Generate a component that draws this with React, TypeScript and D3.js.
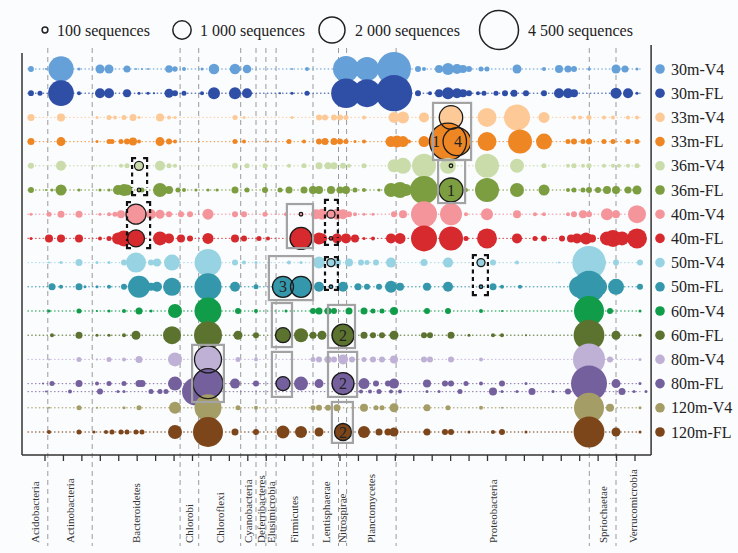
import * as React from 'react'
import * as d3 from 'd3'

// samples (rows) and their colours
const samples = ['30m-V4', '30m-FL', '33m-V4', '33m-FL', '36m-V4', '36m-FL', '40m-V4', '40m-FL',
  '50m-V4', '50m-FL', '60m-V4', '60m-FL', '80m-V4', '80m-FL', '120m-V4', '120m-FL']
const sampleColors = ['#65a0d8', '#2f4fa6', '#fcc997', '#ef8624', '#cadcaa', '#7c9e40', '#f4959b', '#d62a2e',
  '#97d3e2', '#3597ab', '#109c49', '#5c7330', '#bfb0d6', '#75609e', '#a59d66', '#7c461a']

type Cell = [number, number] // [OTU rank, sequences]

const s30V4: Cell[] = [[1, 100], [6, 12], [11, 1900], [17, 27], [24, 240], [27, 240], [33, 145], [36, 12], [38, 12], [40, 12],
  [47, 170], [49, 86], [52, 47], [58, 27], [62, 330], [69, 330], [73, 220], [88, 12], [93, 47], [106, 2000], [113, 1700],
  [122, 3400], [130, 106], [132, 47], [137, 190], [140, 425], [143, 300], [145, 190], [147, 106], [151, 74], [153, 74],
  [163, 240], [172, 47], [177, 190], [180, 145], [182, 106], [187, 27], [196, 240], [199, 145], [203, 27]]
const s30FL: Cell[] = [[1, 100], [4, 74], [8, 27], [11, 1950], [17, 47], [24, 296], [27, 296], [33, 190], [37, 27], [40, 27],
  [42, 12], [47, 240], [49, 106], [52, 74], [58, 47], [62, 426], [69, 426], [73, 296], [84, 12], [88, 27], [93, 74],
  [106, 2600], [113, 2300], [122, 3900], [130, 106], [134, 47], [137, 190], [140, 426], [143, 296], [145, 190], [147, 106],
  [150, 47], [152, 74], [156, 74], [159, 106], [162, 145], [166, 106], [172, 106], [177, 296], [180, 296], [182, 190],
  [196, 358], [200, 296], [203, 27]]
const s33V4: Cell[] = [[1, 145], [11, 190], [23, 27], [27, 74], [29, 47], [32, 74], [35, 145], [37, 27], [44, 190], [47, 47],
  [49, 27], [69, 74], [72, 27], [88, 27], [97, 106], [99, 106], [102, 106], [104, 106], [106, 74], [112, 47], [122, 358],
  [125, 426], [132, 296], [141, 1620], [153, 1068], [163, 2000], [172, 358], [182, 47], [184, 47], [187, 74], [192, 47],
  [195, 47], [200, 47], [203, 47]]
const s33FL: Cell[] = [[1, 145], [11, 240], [23, 27], [27, 74], [28, 74], [31, 74], [33, 106], [35, 190], [37, 47], [44, 240],
  [47, 106], [49, 47], [69, 74], [72, 47], [80, 12], [87, 74], [92, 47], [97, 106], [99, 145], [102, 145], [104, 106],
  [106, 74], [109, 27], [112, 47], [121, 358], [123, 426], [125, 358], [127, 47], [132, 358], [140, 4050], [143, 2300],
  [153, 1068], [164, 1704], [172, 757], [180, 74], [182, 106], [185, 74], [187, 106], [192, 74], [195, 74], [200, 74], [203, 74]]
const s36V4: Cell[] = [[1, 106], [11, 296], [22, 12], [24, 12], [27, 12], [31, 47], [33, 74], [37, 240], [44, 296], [47, 74],
  [49, 47], [69, 106], [73, 74], [79, 74], [87, 47], [92, 74], [97, 145], [100, 145], [102, 145], [105, 106], [107, 47],
  [112, 74], [122, 500], [125, 757], [132, 1704], [140, 757], [141, 27], [153, 1704], [163, 580], [172, 74], [180, 47],
  [182, 74], [185, 47], [187, 74], [192, 47], [195, 47], [197, 47], [200, 47], [203, 74]]
const s36FL: Cell[] = [[1, 106], [6, 12], [8, 27], [11, 358], [17, 27], [24, 27], [27, 27], [30, 296], [32, 426], [33, 358],
  [37, 12], [38, 74], [44, 580], [47, 190], [50, 74], [52, 47], [56, 27], [60, 27], [63, 27], [69, 145], [73, 74], [79, 106],
  [84, 74], [87, 145], [92, 145], [95, 190], [97, 190], [101, 190], [104, 145], [106, 190], [109, 74], [112, 47], [117, 27],
  [121, 580], [124, 757], [126, 426], [132, 2319], [141, 1704], [146, 47], [153, 1704], [163, 580], [172, 358], [180, 47],
  [182, 74], [185, 74], [187, 106], [190, 106], [193, 190], [196, 190], [200, 145], [203, 240]]
const s40V4: Cell[] = [[1, 27], [7, 74], [11, 145], [17, 145], [24, 27], [27, 47], [29, 74], [31, 190], [36, 1183], [41, 296],
  [44, 240], [47, 106], [51, 106], [54, 106], [60, 358], [69, 106], [72, 106], [79, 74], [86, 47], [91, 27], [96, 296],
  [98, 358], [101, 190], [103, 358], [105, 296], [107, 106], [109, 47], [112, 27], [115, 27], [122, 106], [125, 190],
  [132, 2000], [141, 1431], [146, 47], [153, 426], [163, 190], [169, 47], [172, 47], [180, 47], [182, 106], [185, 190],
  [187, 106], [193, 426], [196, 190], [203, 958]]
const s40FL: Cell[] = [[1, 27], [7, 190], [11, 190], [17, 190], [24, 47], [27, 74], [30, 426], [32, 757], [36, 855], [44, 580],
  [47, 296], [51, 190], [54, 106], [60, 358], [69, 190], [72, 106], [77, 74], [80, 47], [91, 1431], [97, 426], [98, 296],
  [101, 27], [103, 296], [106, 296], [109, 190], [112, 27], [115, 47], [121, 296], [124, 358], [132, 2000], [141, 1704],
  [146, 74], [153, 1183], [163, 296], [169, 74], [172, 106], [178, 106], [181, 190], [183, 296], [186, 426], [188, 190],
  [193, 580], [195, 855], [198, 580], [203, 1183]]
const s50V4: Cell[] = [[7, 12], [11, 27], [17, 145], [23, 27], [27, 27], [32, 106], [36, 1183], [41, 106], [43, 190], [48, 757],
  [60, 2156], [69, 106], [72, 47], [76, 27], [87, 47], [91, 27], [97, 426], [101, 190], [103, 190], [107, 190], [111, 106],
  [113, 74], [116, 106], [121, 296], [132, 145], [140, 296], [151, 190], [155, 106], [163, 47], [177, 12], [187, 3300],
  [191, 296], [196, 106], [204, 106]]
const s50FL: Cell[] = [[8, 145], [11, 47], [17, 145], [19, 27], [23, 27], [27, 47], [32, 106], [37, 1431], [41, 190], [43, 296],
  [48, 958], [60, 2156], [69, 296], [76, 74], [85, 1304], [91, 1304], [97, 296], [101, 27], [105, 296], [110, 145], [113, 106],
  [117, 106], [121, 426], [124, 190], [133, 190], [140, 296], [151, 27], [155, 145], [158, 47], [164, 47], [184, 1400],
  [187, 3028], [190, 1000], [196, 757], [204, 106]]
const s60V4: Cell[] = [[7, 27], [17, 74], [23, 12], [27, 27], [32, 47], [37, 145], [41, 27], [49, 580], [60, 2156], [70, 106],
  [76, 47], [86, 27], [95, 106], [97, 145], [100, 145], [102, 106], [107, 145], [112, 145], [115, 74], [118, 74], [122, 190],
  [133, 106], [140, 106], [151, 47], [158, 12], [187, 2662], [194, 106], [204, 27]]
const s60FL: Cell[] = [[8, 47], [17, 145], [23, 27], [27, 27], [32, 47], [36, 240], [48, 958], [60, 2319], [70, 240], [76, 106],
  [85, 665], [91, 580], [95, 145], [98, 240], [105, 1431], [112, 145], [115, 106], [118, 106], [122, 240], [132, 106],
  [134, 106], [141, 145], [147, 27], [155, 47], [158, 47], [166, 12], [187, 2800], [196, 240], [204, 27]]
const s80V4: Cell[] = [[7, 12], [17, 74], [23, 12], [27, 74], [32, 47], [37, 145], [49, 580], [60, 2156], [70, 74], [76, 47],
  [95, 74], [97, 106], [100, 145], [102, 106], [105, 296], [108, 106], [112, 74], [115, 106], [118, 106], [122, 190],
  [132, 106], [134, 106], [141, 106], [151, 47], [187, 3028], [194, 106], [204, 27]]
const s80FL: Cell[] = [[5, 12], [8, 74], [17, 145], [23, 47], [27, 74], [32, 74], [37, 145], [38, 145], [49, 580], [60, 2662],
  [69, 296], [76, 106], [85, 580], [91, 580], [97, 240], [105, 1431], [112, 358], [116, 106], [120, 106], [122, 296],
  [133, 190], [139, 106], [141, 106], [146, 74], [151, 47], [158, 106], [166, 27], [182, 47], [187, 3833], [196, 240], [204, 27]]
// second, lower line of the 80m-FL sample
const s80FLb: Cell[] = [[6, 12], [14, 47], [24, 106], [30, 27], [32, 27], [41, 74], [44, 74], [46, 74], [56, 2319], [111, 47],
  [114, 47], [117, 74], [121, 47], [124, 47], [133, 27], [137, 27], [144, 74], [155, 190], [158, 27], [163, 27], [168, 145],
  [175, 27], [180, 106], [198, 145], [202, 27], [206, 27]]
const s120V4: Cell[] = [[7, 12], [17, 74], [23, 12], [32, 27], [37, 74], [49, 426], [60, 2156], [70, 74], [76, 47], [95, 74],
  [97, 106], [100, 106], [103, 145], [112, 190], [116, 74], [118, 74], [122, 240], [133, 145], [140, 74], [151, 47],
  [158, 12], [187, 2662], [194, 190], [204, 27]]
const s120FL: Cell[] = [[7, 47], [17, 74], [22, 27], [26, 47], [28, 74], [31, 74], [33, 74], [36, 74], [38, 74], [49, 580],
  [60, 2662], [69, 145], [76, 106], [85, 500], [91, 426], [97, 240], [105, 855], [112, 426], [117, 145], [120, 145],
  [122, 240], [133, 145], [139, 106], [141, 106], [147, 27], [155, 47], [158, 106], [166, 27], [187, 2800], [196, 240], [204, 27]]

const rows: Cell[][] = [s30V4, s30FL, s33V4, s33FL, s36V4, s36FL, s40V4, s40FL,
  s50V4, s50FL, s60V4, s60FL, s80V4, s80FL, s120V4, s120FL]

// highlighted OTUs: [row, OTU]
const outlined: [number, number][] = [[2, 141], [3, 140], [3, 143], [4, 141], [5, 141],
  [4, 37], [5, 37], [6, 36], [7, 36], [6, 91], [7, 91], [6, 101], [7, 101], [8, 101], [9, 101], [8, 151], [9, 151],
  [9, 85], [9, 91], [11, 85], [11, 105], [12, 60], [13, 60], [13, 85], [13, 105], [15, 105]]
// numbers written on highlighted OTUs: [row, OTU, text]
const numbers: [number, number, string][] = [[3, 136, '1'], [3, 143.3, '4'], [5, 141, '1'], [9, 85, '3'],
  [11, 105, '2'], [13, 105, '2'], [15, 105, '2']]
// grey boxes [otu0, otu1, row0, row1]
const greyBoxes: [number, number, number, number][] = [[135, 147.7, 1.4, 3.76], [136.7, 145.7, 3.76, 5.54],
  [86.3, 95, 5.58, 7.4], [80.3, 95, 7.73, 9.55], [81.3, 88, 9.67, 11.49], [100, 109, 9.75, 11.53],
  [81.3, 88, 11.69, 13.55], [100, 109.7, 11.69, 13.55], [54.7, 65.3, 11.4, 13.76], [101.3, 108.3, 13.76, 15.45]]
// dashed black brackets [otu0, otu1, row0, row1]
const dashBoxes: [number, number, number, number][] = [[34.7, 39.7, 3.68, 5.21], [33, 40.7, 5.5, 7.4],
  [99, 103.3, 5.41, 7.27], [99, 103.3, 7.77, 9.13], [148.3, 153.3, 7.69, 9.34]]

const phylumNames = ['Acidobacteria', 'Actinobacteria', 'Bacteroidetes', 'Chlorobi', 'Chloroflexi', 'Cyanobacteria',
  'Deferribacteres', 'Elusimicrobia', 'Firmicutes', 'Lentisphaerae', 'Nitrospirae', 'Planctomycetes', 'Proteobacteria',
  'Spriochaetae', 'Verrucomicrobia']
const phylumBounds = [-2, 6.6, 21.4, 50.7, 56.9, 70.9, 76, 79.3, 82.7, 95, 103.5, 106.2, 122.7, 187.1, 196, 207.7]

const sizeLegend = [100, 1000, 2000, 4500]
const sizeLegendText = ['100 sequences', '1 000 sequences', '2 000 sequences', '4 500 sequences']

const font = "'Liberation Serif', 'Times New Roman', serif"

export default function App() {
  const W = 738, H = 553
  const x = d3.scaleLinear().domain([0, 204]).range([28, 640])
  const y = d3.scaleLinear().domain([0, 15]).range([69, 432])
  const r = d3.scaleSqrt().domain([0, 4500]).range([0, 19.5])
  const tickX = d3.scaleLinear().domain([0, 32]).range([45, 635])

  const left = x(phylumBounds[0]), right = x(phylumBounds[phylumBounds.length - 1])
  const bottom = 455

  const countOf = (row: number, otu: number) => {
    const c = rows[row].find(d => d[0] === otu)
    return c ? c[1] : 0
  }

  const series = rows.map((cells, i) => ({ cells, row: i, color: sampleColors[i] }))
  series.splice(14, 0, { cells: s80FLb, row: 13.33, color: sampleColors[13] })

  const legendX = [45, 182, 332, 499]
  const legendTextX = [57, 200, 355, 528]

  // corner-bracket outline, dashed along the sides
  const bracket = (x0: number, x1: number, y0: number, y1: number) => {
    const c = 4
    return `M${x0},${y0 + c}V${y0}H${x0 + c}M${x1 - c},${y0}H${x1}V${y0 + c}` +
      `M${x0},${y1 - c}V${y1}H${x0 + c}M${x1 - c},${y1}H${x1}V${y1 - c}`
  }

  return (
    <svg width={W} height={H} style={{ position: 'absolute', left: 0, top: 0, background: '#fbfcfe' }}
      fontFamily={font}>
      {/* phylum separators */}
      {phylumBounds.slice(1, -1).map((b, i) => (
        <line key={'sep' + i} x1={x(b)} x2={x(b)} y1={48} y2={546} stroke="#9a9a9a" strokeWidth={1}
          strokeDasharray="5 4" />
      ))}
      {/* row guide lines */}
      {series.map((s, i) => (
        <line key={'rl' + i} x1={x(0)} x2={x(204)} y1={y(s.row)} y2={y(s.row)} stroke={s.color}
          strokeWidth={1.4} strokeDasharray="0.4 3.4" strokeLinecap="round" opacity={0.75} />
      ))}
      {/* bubbles */}
      {series.map((s, i) => (
        <g key={'row' + i}>
          {[...s.cells].sort((a, b) => b[1] - a[1]).map((c, j) => (
            <circle key={j} cx={x(c[0])} cy={y(s.row)} r={r(c[1])} fill={s.color} />
          ))}
        </g>
      ))}
      {/* highlighted OTUs */}
      {outlined.map(([row, otu], i) => (
        <circle key={'ol' + i} cx={x(otu)} cy={y(row)} r={Math.max(r(countOf(row, otu)), 1.8)}
          fill="none" stroke="#1a1a1a" strokeWidth={1.3} />
      ))}
      {numbers.map(([row, otu, t], i) => (
        <text key={'nb' + i} x={x(otu)} y={y(row)} dy="0.35em" textAnchor="middle" fontSize={16} fill="#222">{t}</text>
      ))}
      {greyBoxes.map(([o0, o1, r0, r1], i) => (
        <rect key={'gb' + i} x={x(o0)} y={y(r0)} width={x(o1) - x(o0)} height={y(r1) - y(r0)} fill="none"
          stroke="#a3a3a3" strokeWidth={2.2} />
      ))}
      {dashBoxes.map(([o0, o1, r0, r1], i) => (
        <g key={'db' + i} fill="none" stroke="#111" strokeWidth={2.2}>
          <path d={bracket(x(o0), x(o1), y(r0), y(r1))} />
          <line x1={x(o0)} x2={x(o0)} y1={y(r0) + 7} y2={y(r1) - 7} strokeDasharray="4 3.5" />
          <line x1={x(o1)} x2={x(o1)} y1={y(r0) + 7} y2={y(r1) - 7} strokeDasharray="4 3.5" />
        </g>
      ))}
      {/* frame */}
      <line x1={left} x2={left} y1={53} y2={bottom} stroke="#333" strokeWidth={1.5} />
      <line x1={right} x2={right} y1={45} y2={bottom} stroke="#333" strokeWidth={1.5} />
      <line x1={left} x2={right} y1={bottom} y2={bottom} stroke="#333" strokeWidth={1.5} />
      {tickX.ticks(32).map(t => (
        <line key={'tk' + t} x1={tickX(t)} x2={tickX(t)} y1={bottom} y2={bottom + 6} stroke="#333" strokeWidth={1.3} />
      ))}
      {/* phylum labels */}
      {phylumNames.map((p, i) => {
        const cx = (x(phylumBounds[i]) + x(phylumBounds[i + 1])) / 2
        return (
          <text key={'ph' + i} transform={`translate(${cx},543) rotate(-90)`} dy="0.35em" fontSize={11}
            fill="#333">{p}</text>
        )
      })}
      {/* sample legend */}
      {samples.map((s, i) => (
        <g key={'lg' + i}>
          <circle cx={660} cy={y(i)} r={4.8} fill={sampleColors[i]} />
          <text x={671} y={y(i)} dy="0.35em" fontSize={16} fill="#222">{s}</text>
        </g>
      ))}
      {/* size legend */}
      {sizeLegend.map((v, i) => (
        <g key={'sz' + i}>
          <circle cx={legendX[i]} cy={30} r={r(v)} fill="none" stroke="#222" strokeWidth={1.5} />
          <text x={legendTextX[i]} y={30} dy="0.35em" fontSize={16} fill="#222">{sizeLegendText[i]}</text>
        </g>
      ))}
    </svg>
  )
}
